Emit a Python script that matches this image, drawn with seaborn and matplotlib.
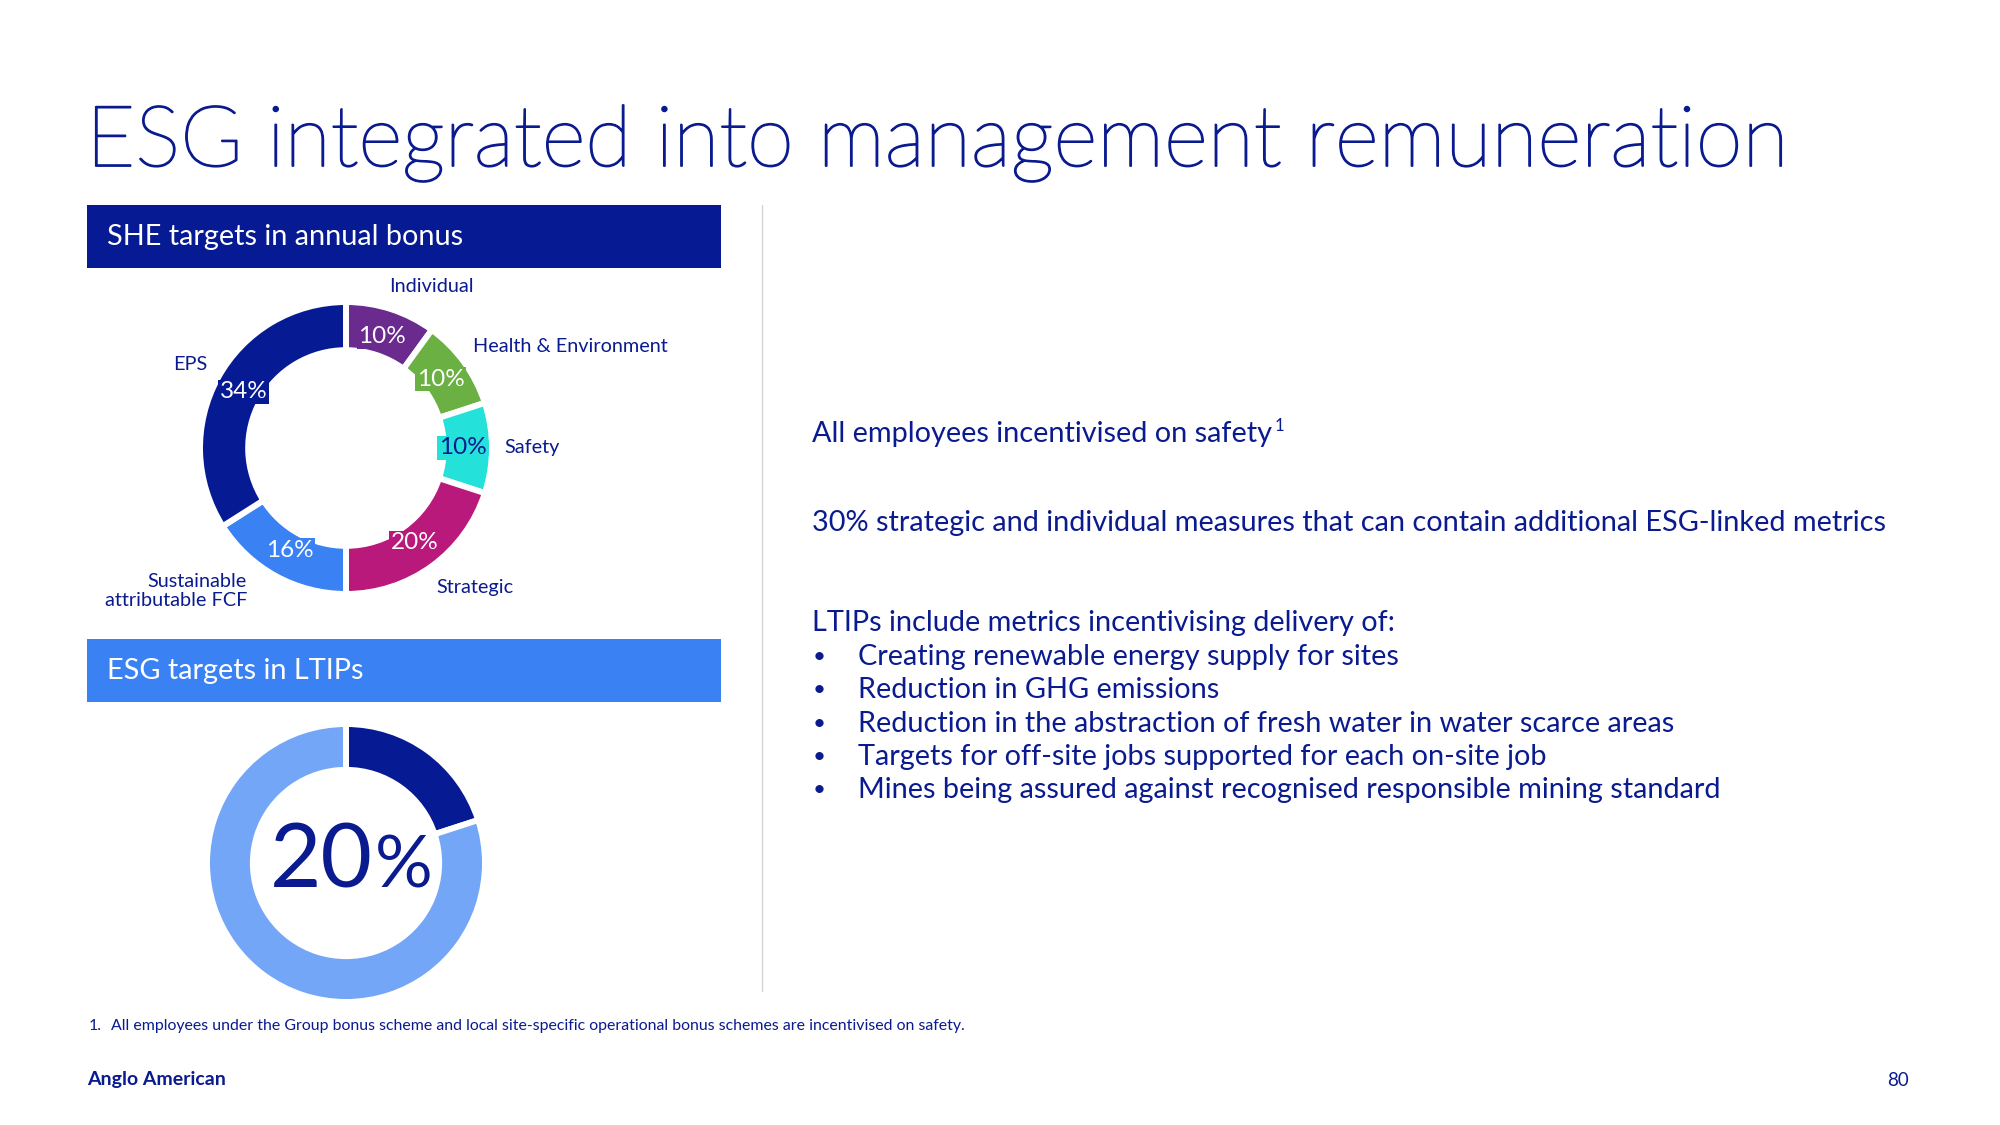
import matplotlib
matplotlib.use("Agg")
import matplotlib.pyplot as plt
import matplotlib.patheffects as pe
from matplotlib.patches import Rectangle
import seaborn as sns

# Data
bonus_labels = ["Individual", "Health & Environment", "Safety", "Strategic",
                "Sustainable\nattributable FCF", "EPS"]
bonus_values = [10, 10, 10, 20, 16, 34]
bonus_colors = ["#6A2A8E", "#6AB043", "#24E2DA", "#B8197A", "#3A82F4", "#061A94"]

ltip_labels = ["ESG", "Other"]
ltip_values = [20, 80]
ltip_colors = ["#061A94", "#74A6F7"]

title = "ESG integrated into management remuneration"
header_bonus = "SHE targets in annual bonus"
header_ltip = "ESG targets in LTIPs"
point_safety = "All employees incentivised on safety"
point_strategic = "30% strategic and individual measures that can contain additional ESG-linked metrics"
point_ltip = "LTIPs include metrics incentivising delivery of:"
ltip_bullets = [
    "Creating renewable energy supply for sites",
    "Reduction in GHG emissions",
    "Reduction in the abstraction of fresh water in water scarce areas",
    "Targets for off-site jobs supported for each on-site job",
    "Mines being assured against recognised responsible mining standard",
]
footnote = "All employees under the Group bonus scheme and local site-specific operational bonus schemes are incentivised on safety."
page_no = "80"

sns.set_theme(style="white")
plt.rcParams['font.family'] = ['Lato', 'DejaVu Sans']

NAVY = "#0A1A8F"
W, H = 2000, 1125
BODY = 20.8

fig = plt.figure(figsize=(20, 11.25), dpi=100)

# background axes in pixel coordinates for texts and boxes
bg = fig.add_axes([0, 0, 1, 1])
bg.set_xlim(0, W)
bg.set_ylim(H, 0)
bg.axis("off")

bg.text(86, 166, title, fontsize=61, color=NAVY, fontweight="light", va="baseline",
        path_effects=[pe.withStroke(linewidth=1.3, foreground=NAVY)])

bg.add_patch(Rectangle((87, 205), 634, 63, color="#061A94", lw=0))
bg.text(107, 237, header_bonus, fontsize=20.8, color="white", va="center")
bg.add_patch(Rectangle((87, 639), 634, 63, color="#3A82F4", lw=0))
bg.text(107, 671, header_ltip, fontsize=20.8, color="white", va="center")

bg.plot([762, 762], [205, 991], color="#D5D5D5", lw=1)

# right side text
t1 = bg.text(812, 434, point_safety, fontsize=BODY, color=NAVY, va="center")
bg.text(812, 523, point_strategic, fontsize=BODY, color=NAVY, va="center")
bg.text(812, 623, point_ltip, fontsize=BODY, color=NAVY, va="center")
for i, b in enumerate(ltip_bullets):
    y = 657 + i * 33.3
    bg.text(813, y, "•", fontsize=16, color=NAVY, va="center")
    bg.text(858, y, b, fontsize=BODY, color=NAVY, va="center")

bg.text(89, 1026, "1.", fontsize=11.4, color=NAVY, va="center")
bg.text(111, 1026, footnote, fontsize=11.4, color=NAVY, va="center")
bg.text(87, 1080, "Anglo American", fontsize=14, color=NAVY, fontweight="bold", va="center")
bg.text(1898, 1080, page_no, fontsize=13.5, color=NAVY, ha="center", va="center")

# category labels around the first donut
label_pos = [(431, 286, "center"), (473, 347, "left"), (504, 448, "left"),
             (436, 588, "left"), (247, 591, "right"), (207, 365, "right")]
for (x, y, ha), lab in zip(label_pos, bonus_labels):
    bg.text(x, y, lab, fontsize=14.3, color=NAVY, ha=ha, va="center",
            multialignment="right", linespacing=1.2)


def donut_axes(cx, cy, r):
    # square axes centred on (cx, cy) in pixels, one data unit = r pixels
    w = 3 * r
    return fig.add_axes([(cx - w / 2) / W, (H - cy - w / 2) / H, w / W, w / H])


# SHE donut
ax1 = donut_axes(346, 448, 146)
wedges, _, autotexts = ax1.pie(
    bonus_values, colors=bonus_colors, startangle=90, counterclock=False,
    autopct="%.0f%%", pctdistance=0.8,
    wedgeprops=dict(width=0.33, edgecolor="white", linewidth=4.3),
    textprops=dict(fontsize=17.5, color="white"))
for t, c in zip(autotexts, bonus_colors):
    if c == "#24E2DA":
        t.set_color(NAVY)
    t.set_bbox(dict(boxstyle="square,pad=0.06", fc=c, ec="none"))
ax1.set_xlim(-1.5, 1.5)
ax1.set_ylim(-1.5, 1.5)
ax1.axis("off")

# LTIP donut
ax2 = donut_axes(346, 863, 139)
ax2.pie(ltip_values, colors=ltip_colors, startangle=90, counterclock=False,
        wedgeprops=dict(width=0.33, edgecolor="white", linewidth=4.3))
ax2.set_xlim(-1.5, 1.5)
ax2.set_ylim(-1.5, 1.5)
ax2.axis("off")

bg.text(373, 888, f"{ltip_values[0]}", fontsize=64, color=NAVY, ha="right", va="baseline")
bg.text(375, 888, "%", fontsize=52, color=NAVY, ha="left", va="baseline")

# superscript after the safety sentence
fig.canvas.draw()
bb = t1.get_window_extent()
bg.text(bb.x1 + 3, 426, "1", fontsize=12, color=NAVY, va="center")

fig.savefig("out.png", dpi=100, facecolor="white")
